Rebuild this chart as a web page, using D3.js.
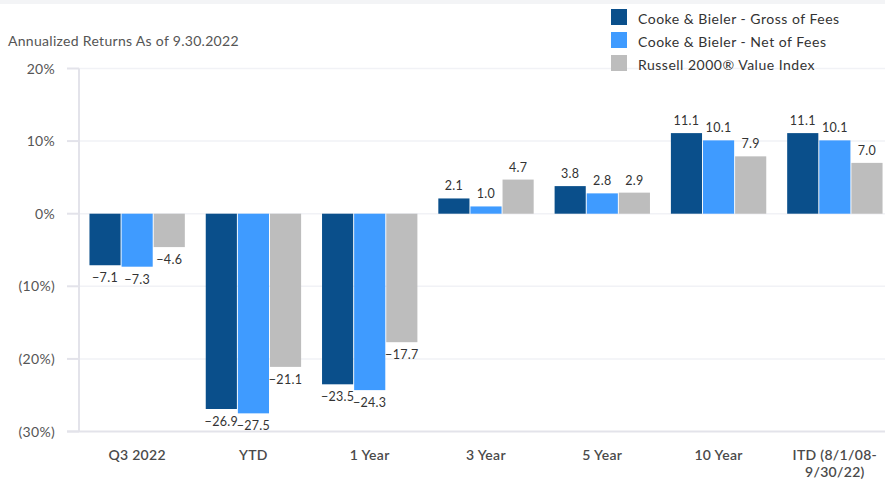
<!DOCTYPE html>
<html>
<head>
<meta charset="utf-8">
<script src="https://cdn.jsdelivr.net/npm/d3@7"></script>
<style>
  body { margin: 0; background: #fff; font-family: Lato, "Noto Sans", sans-serif; }
  svg { display: block; }
</style>
</head>
<body>
<svg width="885" height="481"></svg>
<script>
{
  const width = 885;
  const height = 481;

  // 数据
  const categories = ["Q3 2022", "YTD", "1 Year", "3 Year", "5 Year", "10 Year", "ITD (8/1/08-|9/30/22)"];
  const seriesNames = ["Cooke & Bieler - Gross of Fees", "Cooke & Bieler - Net of Fees", "Russell 2000® Value Index"];
  const gross = [-7.1, -26.9, -23.5, 2.1, 3.8, 11.1, 11.1];
  const net = [-7.3, -27.5, -24.3, 1.0, 2.8, 10.1, 10.1];
  const russell = [-4.6, -21.1, -17.7, 4.7, 2.9, 7.9, 7.0];
  const yTicks = [20, 10, 0, -10, -20, -30];
  const colors = ["#0a4f8b", "#3f9bff", "#bdbdbd"];

  const seriesValues = [gross, net, russell];

  const svg = d3.select("svg");

  // 顶部浅灰条
  svg.append("rect")
    .attr("x", 0).attr("y", 0)
    .attr("width", width).attr("height", 4)
    .attr("fill", "#f3f4f6");

  const x0 = d3.scaleBand()
    .domain(categories)
    .range([79, 893])
    .paddingInner(0.18)
    .paddingOuter(0.09);

  const x1 = d3.scaleBand()
    .domain(seriesNames)
    .range([0, x0.bandwidth()])
    .paddingInner(0.03);

  const y = d3.scaleLinear()
    .domain([-30, 20])
    .range([431.5, 68.5]);

  // 网格线
  svg.append("g")
    .selectAll("line")
    .data(yTicks.filter(d => d !== -30))
    .join("line")
    .attr("x1", 79).attr("x2", width)
    .attr("y1", d => y(d)).attr("y2", d => y(d))
    .attr("stroke", "#f1f2f6")
    .attr("stroke-width", 1.5);

  // 柱子
  const group = svg.append("g")
    .selectAll("g")
    .data(categories)
    .join("g")
    .attr("transform", d => `translate(${x0(d)},0)`);

  group.selectAll("rect")
    .data((d, i) => seriesNames.map((s, j) => ({ s: s, j: j, v: seriesValues[j][i] })))
    .join("rect")
    .attr("x", d => x1(d.s))
    .attr("width", x1.bandwidth())
    .attr("y", d => y(Math.max(0, d.v)))
    .attr("height", d => Math.abs(y(d.v) - y(0)))
    .attr("fill", d => colors[d.j]);

  // 数值标签
  group.selectAll("text")
    .data((d, i) => seriesNames.map((s, j) => ({ s: s, j: j, v: seriesValues[j][i] })))
    .join("text")
    .attr("x", d => x1(d.s) + x1.bandwidth() / 2)
    .attr("y", d => d.v >= 0 ? y(d.v) - 8 : y(d.v) + 17)
    .attr("text-anchor", "middle")
    .attr("font-size", 12.5)
    .attr("letter-spacing", 0.3)
    .attr("fill", "#333")
    .text(d => (d.v < 0 ? "\u2212" : "") + Math.abs(d.v).toFixed(1));

  // Y 轴
  const yAxis = svg.append("g");
  yAxis.append("line")
    .attr("x1", 79).attr("x2", 79)
    .attr("y1", y(20)).attr("y2", y(-30))
    .attr("stroke", "#e3e3ea")
    .attr("stroke-width", 2);
  yAxis.selectAll("line.tick")
    .data(yTicks)
    .join("line")
    .attr("class", "tick")
    .attr("x1", 67).attr("x2", 79)
    .attr("y1", d => y(d)).attr("y2", d => y(d))
    .attr("stroke", "#e3e3ea")
    .attr("stroke-width", 2);
  yAxis.selectAll("text")
    .data(yTicks)
    .join("text")
    .attr("x", 55)
    .attr("y", d => y(d) + 5)
    .attr("text-anchor", "end")
    .attr("font-size", 14)
    .attr("letter-spacing", 0.3)
    .attr("fill", "#555")
    .text(d => d < 0 ? `(${-d}%)` : `${d}%`);

  // X 轴线
  svg.append("line")
    .attr("x1", 67).attr("x2", width)
    .attr("y1", y(-30)).attr("y2", y(-30))
    .attr("stroke", "#e3e3ea")
    .attr("stroke-width", 2);

  svg.append("g")
    .selectAll("text")
    .data(categories)
    .join("text")
    .attr("x", d => x0(d) + x0.bandwidth() / 2)
    .attr("y", 460)
    .attr("text-anchor", "middle")
    .attr("font-size", 14)
    .attr("font-weight", 600)
    .attr("letter-spacing", 0.3)
    .attr("fill", "#4a4a4a")
    .selectAll("tspan")
    .data(d => d.split("|"))
    .join("tspan")
    .attr("x", function () { return d3.select(this.parentNode).attr("x"); })
    .attr("dy", (d, i) => i === 0 ? 0 : 17)
    .text(d => d);

  // 标题
  svg.append("text")
    .attr("x", 8).attr("y", 46)
    .attr("font-size", 14)
    .attr("letter-spacing", 0.3)
    .attr("fill", "#555")
    .text("Annualized Returns As of 9.30.2022");

  // 图例
  const legend = svg.append("g")
    .selectAll("g")
    .data(seriesNames)
    .join("g")
    .attr("transform", (d, i) => `translate(611,${9 + i * 23})`);
  legend.append("rect")
    .attr("width", 16).attr("height", 16)
    .attr("fill", (d, i) => colors[i]);
  legend.append("text")
    .attr("x", 27).attr("y", 15)
    .attr("font-size", 14)
    .attr("letter-spacing", 0.5)
    .attr("fill", "#333")
    .text(d => d);
}
</script>
</body>
</html>
